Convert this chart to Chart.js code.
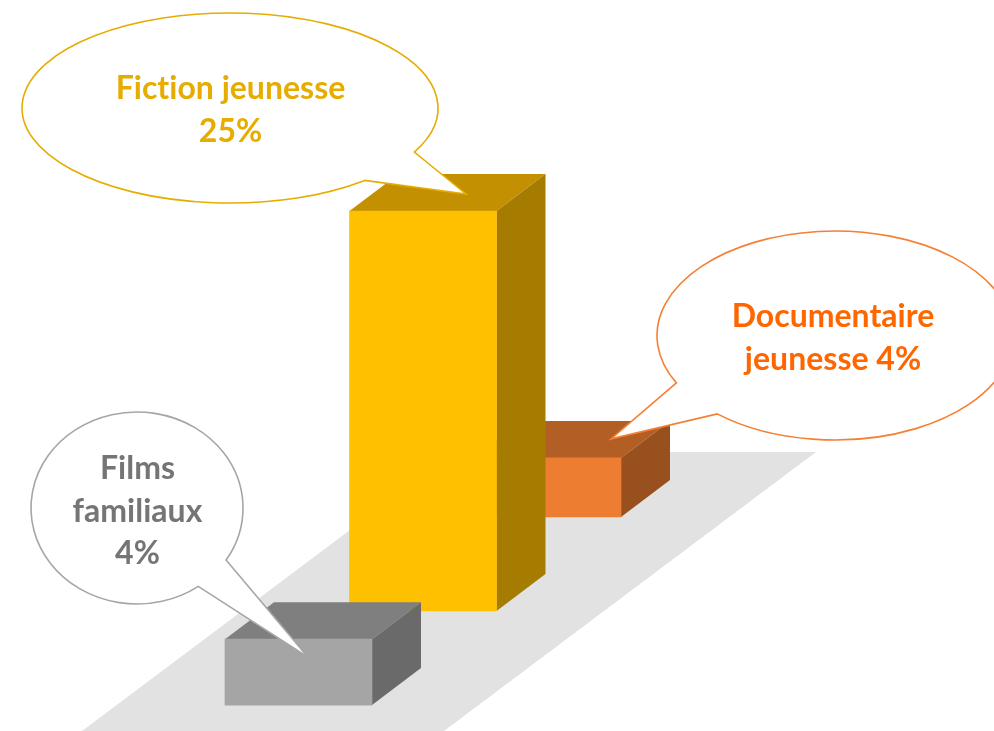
<!DOCTYPE html>
<html lang="fr">
<head>
<meta charset="utf-8">
<title>Fiction jeunesse</title>
<script src="https://cdn.jsdelivr.net/npm/chart.js@4"></script>
<style>
  html, body { margin: 0; background: #fff; overflow: hidden; }
  canvas { display: block; }
</style>
</head>
<body>
<canvas id="chart" width="994" height="731"></canvas>
<script>
const categories = ["Films familiaux", "Fiction jeunesse", "Documentaire jeunesse"];
const shares = [4.12, 25, 3.69];
// bars sit further back on the floor, so each one starts higher up
const rowLift = [1.62, 7.5, 13.38];
const frontColors = ["#a5a5a5", "#ffc000", "#ed7d31"];
const topColors = ["#7f7f7f", "#c29000", "#b35e24"];
const sideColors = ["#6a6a6a", "#a57c00", "#98501e"];
const calloutLines = [
  ["Films", "familiaux", "4%"],
  ["Fiction jeunesse", "25%"],
  ["Documentaire", "jeunesse 4%"],
];
const textColors = ["#757575", "#e6ac00", "#ff6600"];
const strokeColors = ["#a6a6a6", "#e6ac00", "#f57f32"];

const depthX = 49;
const depthY = 37;

const bubbles = [
  { cx: 137, cy: 508, rx: 106, ry: 96, from: [198, 586], tip: [9.5, 18], to: [226, 560], textX: 137.5, textY: 469 },
  { cx: 230, cy: 108, rx: 208, ry: 95, from: [364, 180], tip: [43, -17], to: [414, 152], textX: 230.5, textY: 89 },
  { cx: 835, cy: 335.5, rx: 178, ry: 104.5, from: [676, 383], tip: [63.5, -19], to: [717, 414], textX: 833, textY: 317 },
];

function poly(ctx, points, color) {
  ctx.beginPath();
  points.forEach((p, i) => (i ? ctx.lineTo(p[0], p[1]) : ctx.moveTo(p[0], p[1])));
  ctx.closePath();
  ctx.fillStyle = color;
  ctx.fill();
}

const floorPlugin = {
  id: "floor",
  beforeDatasetsDraw(chart) {
    poly(chart.ctx, [[82, 731], [444, 731], [816, 452], [454, 452]], "#e2e2e2");
  },
};

// top and side faces go in just before the front face of the same bar
const boxPlugin = {
  id: "boxFaces",
  beforeDatasetDraw(chart, args) {
    const bar = chart.getDatasetMeta(args.index).data[args.index];
    const ctx = chart.ctx;
    const left = bar.x - bar.width / 2;
    const right = bar.x + bar.width / 2;
    poly(ctx, [[left, bar.y], [right, bar.y], [right + depthX, bar.y - depthY], [left + depthX, bar.y - depthY]], topColors[args.index]);
    poly(ctx, [[right, bar.y], [right + depthX, bar.y - depthY], [right + depthX, bar.base - depthY], [right, bar.base]], sideColors[args.index]);
  },
};

const calloutPlugin = {
  id: "callouts",
  afterDatasetsDraw(chart) {
    const ctx = chart.ctx;
    bubbles.forEach((b, i) => {
      const bar = chart.getDatasetMeta(i).data[i];
      const start = Math.atan2((b.from[1] - b.cy) / b.ry, (b.from[0] - b.cx) / b.rx);
      const end = Math.atan2((b.to[1] - b.cy) / b.ry, (b.to[0] - b.cx) / b.rx);
      ctx.save();
      ctx.beginPath();
      ctx.ellipse(b.cx, b.cy, b.rx, b.ry, 0, start, end, false);
      ctx.lineTo(bar.x + b.tip[0], bar.y + b.tip[1]);
      ctx.closePath();
      ctx.fillStyle = "#fff";
      ctx.fill();
      ctx.lineWidth = 1.6;
      ctx.miterLimit = 20;
      ctx.strokeStyle = strokeColors[i];
      ctx.stroke();

      ctx.fillStyle = textColors[i];
      ctx.font = "bold 32px Lato";
      ctx.letterSpacing = "0.01px"; // keeps the fi and ti letters apart
      ctx.textAlign = "center";
      ctx.textBaseline = "middle";
      calloutLines[i].forEach((line, j) => {
        ctx.fillText(line, b.textX, b.textY + j * 42.5);
      });
      ctx.restore();
    });
  },
};

new Chart(document.querySelector("#chart"), {
  type: "bar",
  data: {
    labels: categories,
    datasets: categories.map((name, i) => ({
      label: name,
      data: categories.map((_, j) => (j === i ? [rowLift[i], rowLift[i] + shares[i]] : null)),
      backgroundColor: frontColors[i],
      barThickness: 147,
      grouped: false,
      clip: false,
    })),
  },
  options: {
    responsive: false,
    animation: false,
    layout: { padding: { left: 236.25, right: 384.25 } },
    plugins: {
      legend: { display: false },
      tooltip: { enabled: false },
    },
    scales: {
      x: { display: false },
      y: { display: false, min: 0, max: 45.6875 },
    },
  },
  plugins: [floorPlugin, boxPlugin, calloutPlugin],
});
</script>
</body>
</html>
